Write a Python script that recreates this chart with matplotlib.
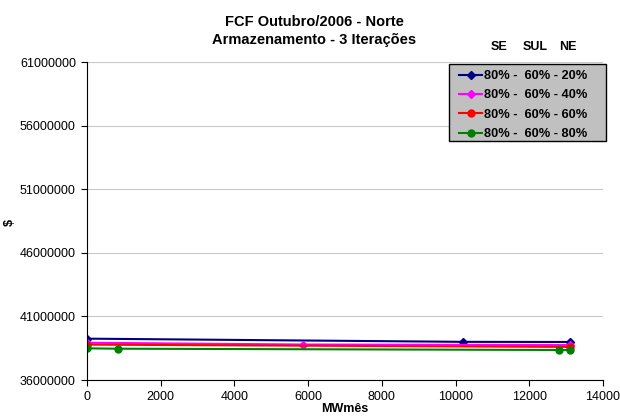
import matplotlib
matplotlib.use("Agg")
import matplotlib.pyplot as plt
from matplotlib.patches import Rectangle
from matplotlib.ticker import FuncFormatter

plt.rcParams["font.family"] = ["Liberation Sans", "DejaVu Sans"]

# series: (x values, y values)
labels = ["80% -  60% - 20%", "80% -  60% - 40%", "80% -  60% - 60%", "80% -  60% - 80%"]
colors = ["#000080", "#FF00FF", "#FF0000", "#008000"]

x_20 = [0, 10200, 13100]
y_20 = [39250000, 39000000, 38990000]
x_40 = [0, 5850, 13100]
y_40 = [38930000, 38790000, 38750000]
x_60 = [0, 13100]
y_60 = [38780000, 38600000]
x_80 = [0, 850, 12800, 13100]
y_80 = [38490000, 38460000, 38360000, 38360000]

xs = [x_20, x_40, x_60, x_80]
ys = [y_20, y_40, y_60, y_80]
markers = ["D", "D", "o", "o"]
msizes = [4, 4, 5, 5]

fig = plt.figure(figsize=(6.2, 4.19), dpi=100)
ax = fig.add_axes([87 / 620, 1 - 380 / 419, (603 - 87) / 620, (380 - 62) / 419])

for x, y, c, lab, m, ms in zip(xs, ys, colors, labels, markers, msizes):
    ax.plot(x, y, color=c, marker=m, markersize=ms, linewidth=1.5, label=lab)

ax.set_xlim(0, 14000)
ax.set_ylim(36000000, 61000000)
ax.set_xticks(range(0, 14001, 2000))
ax.set_yticks(range(36000000, 61000001, 5000000))
ax.yaxis.set_major_formatter(FuncFormatter(lambda v, p: f"{int(v)}"))
ax.yaxis.grid(True, color="#C8C8C8", linewidth=0.8)
ax.set_axisbelow(True)
for s in ["top", "right"]:
    ax.spines[s].set_visible(False)
ax.tick_params(labelsize=9, length=4, pad=4)
ax.set_xlabel("MWmês", fontsize=9, fontweight="bold", labelpad=0)

fig.text(10 / 620, 1 - 222 / 419, "$", rotation=90, ha="center", va="center",
         fontsize=9, fontweight="bold")
fig.text(314 / 620, 1 - 15 / 419, "FCF Outubro/2006 - Norte\nArmazenamento - 3 Iterações",
         ha="center", va="top", fontsize=10.5, fontweight="bold", linespacing=1.4)
for lab, xp in [("SE", 499), ("SUL", 535), ("NE", 568)]:
    fig.text(xp / 620, 1 - 47.5 / 419, lab, ha="center", va="center",
             fontsize=9, fontweight="bold")

# legend box drawn separately (Excel style, wider than its contents)
box = Rectangle((449 / 620, 1 - 141 / 419), (606 - 449) / 620, (141 - 64) / 419,
                transform=fig.transFigure, facecolor="#C0C0C0", edgecolor="black",
                linewidth=1, zorder=4, clip_on=False)
ax.add_patch(box)
leg = ax.legend(loc="upper left", bbox_to_anchor=(459 / 620, 1 - 70 / 419),
                bbox_transform=fig.transFigure,
                prop={"weight": "bold", "size": 9.2}, frameon=False,
                handlelength=1.8, handletextpad=0.15, borderpad=0, labelspacing=0.58,
                borderaxespad=0)
leg.set_zorder(5)

fig.savefig("out.png", dpi=100)
